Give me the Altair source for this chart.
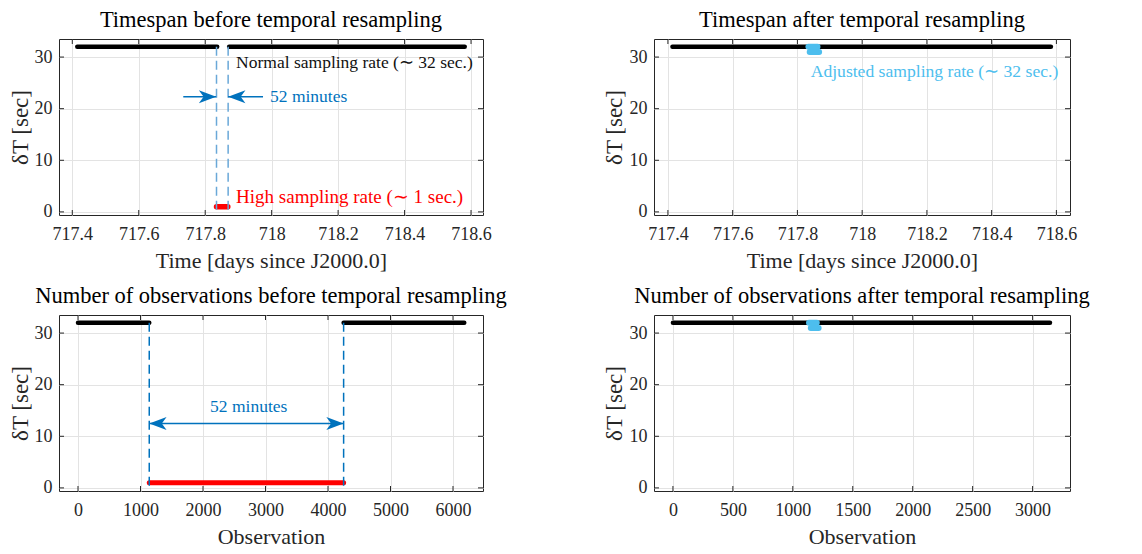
import altair as alt
import pandas as pd

FONT = "Liberation Serif"
AX = "#262626"
GRID = "#E3E3E3"
BLUE = "#0072BD"
DASH1 = "#6AA8D8"
LBLUE = "#4DBEEE"
RED = "#FF0000"

# ---------------- data ----------------
# Panel 1: timespan before resampling (segments of dense samples)
p1_x = [717.415, 717.872, 717.834]
p1_x2 = [717.836, 718.581, 717.868]
p1_y = [32, 32, 1]
p1_col = ["#000000", "#000000", RED]
p1_w = [4.5, 4.5, 5.5]
p1_dash_x = [717.834, 717.869]
p1_arrow_tail = [717.734, 717.974]
p1_arrow_tip = [717.833, 717.869]
p1_arrow_y = 22.3

# Panel 2: timespan after resampling
p2_x = [717.414, 717.834, 717.838]
p2_x2 = [718.583, 717.862, 717.867]
p2_y = [32, 32, 31]
p2_col = ["#000000", LBLUE, LBLUE]
p2_w = [4.5, 6, 6]

# Panel 3: observations before resampling
p3_x = [0, 4250, 1140]
p3_x2 = [1140, 6180, 4250]
p3_y = [32, 32, 1]
p3_col = ["#000000", "#000000", RED]
p3_w = [4.5, 4.5, 5]
p3_dash_x = [1140, 4250]
p3_arrow_y = 12.5

# Panel 4: observations after resampling
p4_x = [0, 1135, 1150]
p4_x2 = [3145, 1200, 1215]
p4_y = [32, 32, 31]
p4_col = ["#000000", LBLUE, LBLUE]
p4_w = [4.5, 6, 6]

time_ticks = [717.4, 717.6, 717.8, 718.0, 718.2, 718.4, 718.6]
obs_ticks1 = [0, 1000, 2000, 3000, 4000, 5000, 6000]
obs_ticks2 = [0, 500, 1000, 1500, 2000, 2500, 3000]
y_ticks = [0, 10, 20, 30]

RIGHT_HEAD = "M0,0 L-2,-0.75 L-1.45,0 L-2,0.75 Z"
LEFT_HEAD = "M0,0 L2,-0.75 L1.45,0 L2,0.75 Z"


def make_panel(seg, xdom, xticks, xfmt, xtitle, title, W, H, extras, title_dy, ytx):
    ydom = [-0.6, 33.5]
    xaxis = alt.Axis(values=xticks, format=xfmt, grid=True, gridColor=GRID,
                     domain=False, ticks=False, labelFont=FONT, labelFontSize=18,
                     labelColor=AX, labelPadding=10, title=xtitle, titleFont=FONT,
                     titleFontSize=22, titleFontWeight="normal", titleColor=AX,
                     titlePadding=7, labelFlush=False)
    yaxis = alt.Axis(values=y_ticks, grid=True, gridColor=GRID, domain=False,
                     ticks=False, labelFont=FONT, labelFontSize=18, labelColor=AX,
                     labelPadding=7, title="δT [sec]", titleFont=FONT,
                     titleFontSize=23, titleFontWeight="normal", titleColor=AX,
                     titleAngle=270, titleBaseline="middle", titleAlign="center",
                     titleX=ytx, titleY=H / 2)
    xs = alt.Scale(domain=xdom, nice=False, zero=False)
    ys = alt.Scale(domain=ydom, nice=False, zero=False)

    def X(f):
        return alt.X(f, type="quantitative", scale=xs, axis=xaxis)

    def Y(f):
        return alt.Y(f, type="quantitative", scale=ys, axis=yaxis)

    layers = []
    segs = alt.Chart(seg).mark_rule(strokeCap="round").encode(
        x=X("x"), x2="x2", y=Y("y"), color=alt.Color("c:N", scale=None),
        strokeWidth=alt.StrokeWidth("w:Q", scale=None))
    layers.append(segs)
    layers += [e(X, Y) for e in extras]

    xt = pd.DataFrame({"x": xticks})
    yt = pd.DataFrame({"y": y_ticks})
    tk = dict(color=AX, strokeWidth=1)
    layers.append(alt.Chart(xt).mark_rule(**tk).encode(x=X("x"), y=alt.value(H - 5), y2=alt.value(H)))
    layers.append(alt.Chart(xt).mark_rule(**tk).encode(x=X("x"), y=alt.value(0), y2=alt.value(5)))
    layers.append(alt.Chart(yt).mark_rule(**tk).encode(y=Y("y"), x=alt.value(0), x2=alt.value(5)))
    layers.append(alt.Chart(yt).mark_rule(**tk).encode(y=Y("y"), x=alt.value(W - 5), x2=alt.value(W)))

    td = pd.DataFrame({"t": [title]})
    layers.append(alt.Chart(td).mark_text(align="center", baseline="alphabetic", font=FONT,
                                          fontSize=22.5, color="#000000").encode(
        x=alt.value(W / 2), y=alt.value(title_dy), text="t:N"))

    return alt.layer(*layers).properties(width=W, height=H)


def seg_df(x, x2, y, c, w):
    return pd.DataFrame({"x": x, "x2": x2, "y": y, "c": c, "w": w})


def text_layer(xv, yv, txt, color, size, align="left"):
    def f(X, Y):
        d = pd.DataFrame({"x": [xv], "y": [yv], "t": [txt]})
        return alt.Chart(d).mark_text(align=align, baseline="middle", font=FONT,
                                      fontSize=size, color=color).encode(
            x=X("x"), y=Y("y"), text="t:N")
    return f


def dash_layer(xs_, color):
    def f(X, Y):
        d = pd.DataFrame({"x": xs_, "y": [32] * len(xs_), "y2": [0] * len(xs_)})
        return alt.Chart(d).mark_rule(strokeDash=[9, 5], strokeWidth=1.5,
                                      color=color).encode(x=X("x"), y=Y("y"), y2="y2")
    return f


def shaft_layer(x1, x2, yv):
    def f(X, Y):
        d = pd.DataFrame({"x": [x1], "x2": [x2], "y": [yv]})
        return alt.Chart(d).mark_rule(strokeWidth=1.5, color=BLUE).encode(
            x=X("x"), x2="x2", y=Y("y"))
    return f


def head_layer(xv, yv, shape):
    def f(X, Y):
        d = pd.DataFrame({"x": [xv], "y": [yv]})
        return alt.Chart(d).mark_point(shape=shape, filled=True, size=300, opacity=1,
                                       color=BLUE, strokeWidth=0).encode(
            x=X("x"), y=Y("y"))
    return f


p1 = make_panel(
    seg_df(p1_x, p1_x2, p1_y, p1_col, p1_w), [717.36, 718.636], time_ticks, ".4~r",
    "Time [days since J2000.0]", "Timespan before temporal resampling", 424, 176,
    [dash_layer(p1_dash_x, DASH1),
     shaft_layer(p1_arrow_tail[0], p1_arrow_tip[0], p1_arrow_y),
     shaft_layer(p1_arrow_tip[1], p1_arrow_tail[1], p1_arrow_y),
     head_layer(p1_arrow_tip[0], p1_arrow_y, RIGHT_HEAD),
     head_layer(p1_arrow_tip[1], p1_arrow_y, LEFT_HEAD),
     text_layer(717.893, 28.8, "Normal sampling rate (∼ 32 sec.)", "#111111", 17.5),
     text_layer(717.995, 22.3, "52 minutes", BLUE, 17.5),
     text_layer(717.893, 2.85, "High sampling rate (∼ 1 sec.)", RED, 19)],
    -12, -39)

p2 = make_panel(
    seg_df(p2_x, p2_x2, p2_y, p2_col, p2_w), [717.357, 718.642], time_ticks, ".4~r",
    "Time [days since J2000.0]", "Timespan after temporal resampling", 416, 176,
    [text_layer(717.841, 27.1, "Adjusted sampling rate (∼ 32 sec.)", LBLUE, 17.6)],
    -12, -40)

p3 = make_panel(
    seg_df(p3_x, p3_x2, p3_y, p3_col, p3_w), [-304, 6480], obs_ticks1, "d",
    "Observation", "Number of observations before temporal resampling", 424, 176,
    [dash_layer(p3_dash_x, BLUE),
     shaft_layer(p3_dash_x[0], p3_dash_x[1], p3_arrow_y),
     head_layer(p3_dash_x[0], p3_arrow_y, LEFT_HEAD),
     head_layer(p3_dash_x[1], p3_arrow_y, RIGHT_HEAD),
     text_layer(2731, 15.6, "52 minutes", BLUE, 17.5, align="center")],
    -12, -39)

p4 = make_panel(
    seg_df(p4_x, p4_x2, p4_y, p4_col, p4_w), [-158, 3312], obs_ticks2, "d",
    "Observation", "Number of observations after temporal resampling", 416, 176,
    [], -12, -40)

chart = alt.ConcatChart(
    concat=[p1, p2, p3, p4], columns=2, bounds="flush",
    spacing={"row": 100, "column": 171},
).properties(
    padding={"left": 0, "top": 0, "right": 0, "bottom": 0}
).configure_view(stroke=AX, strokeWidth=1)

chart.save("out.html", embed_options={"renderer": "svg", "actions": False})
